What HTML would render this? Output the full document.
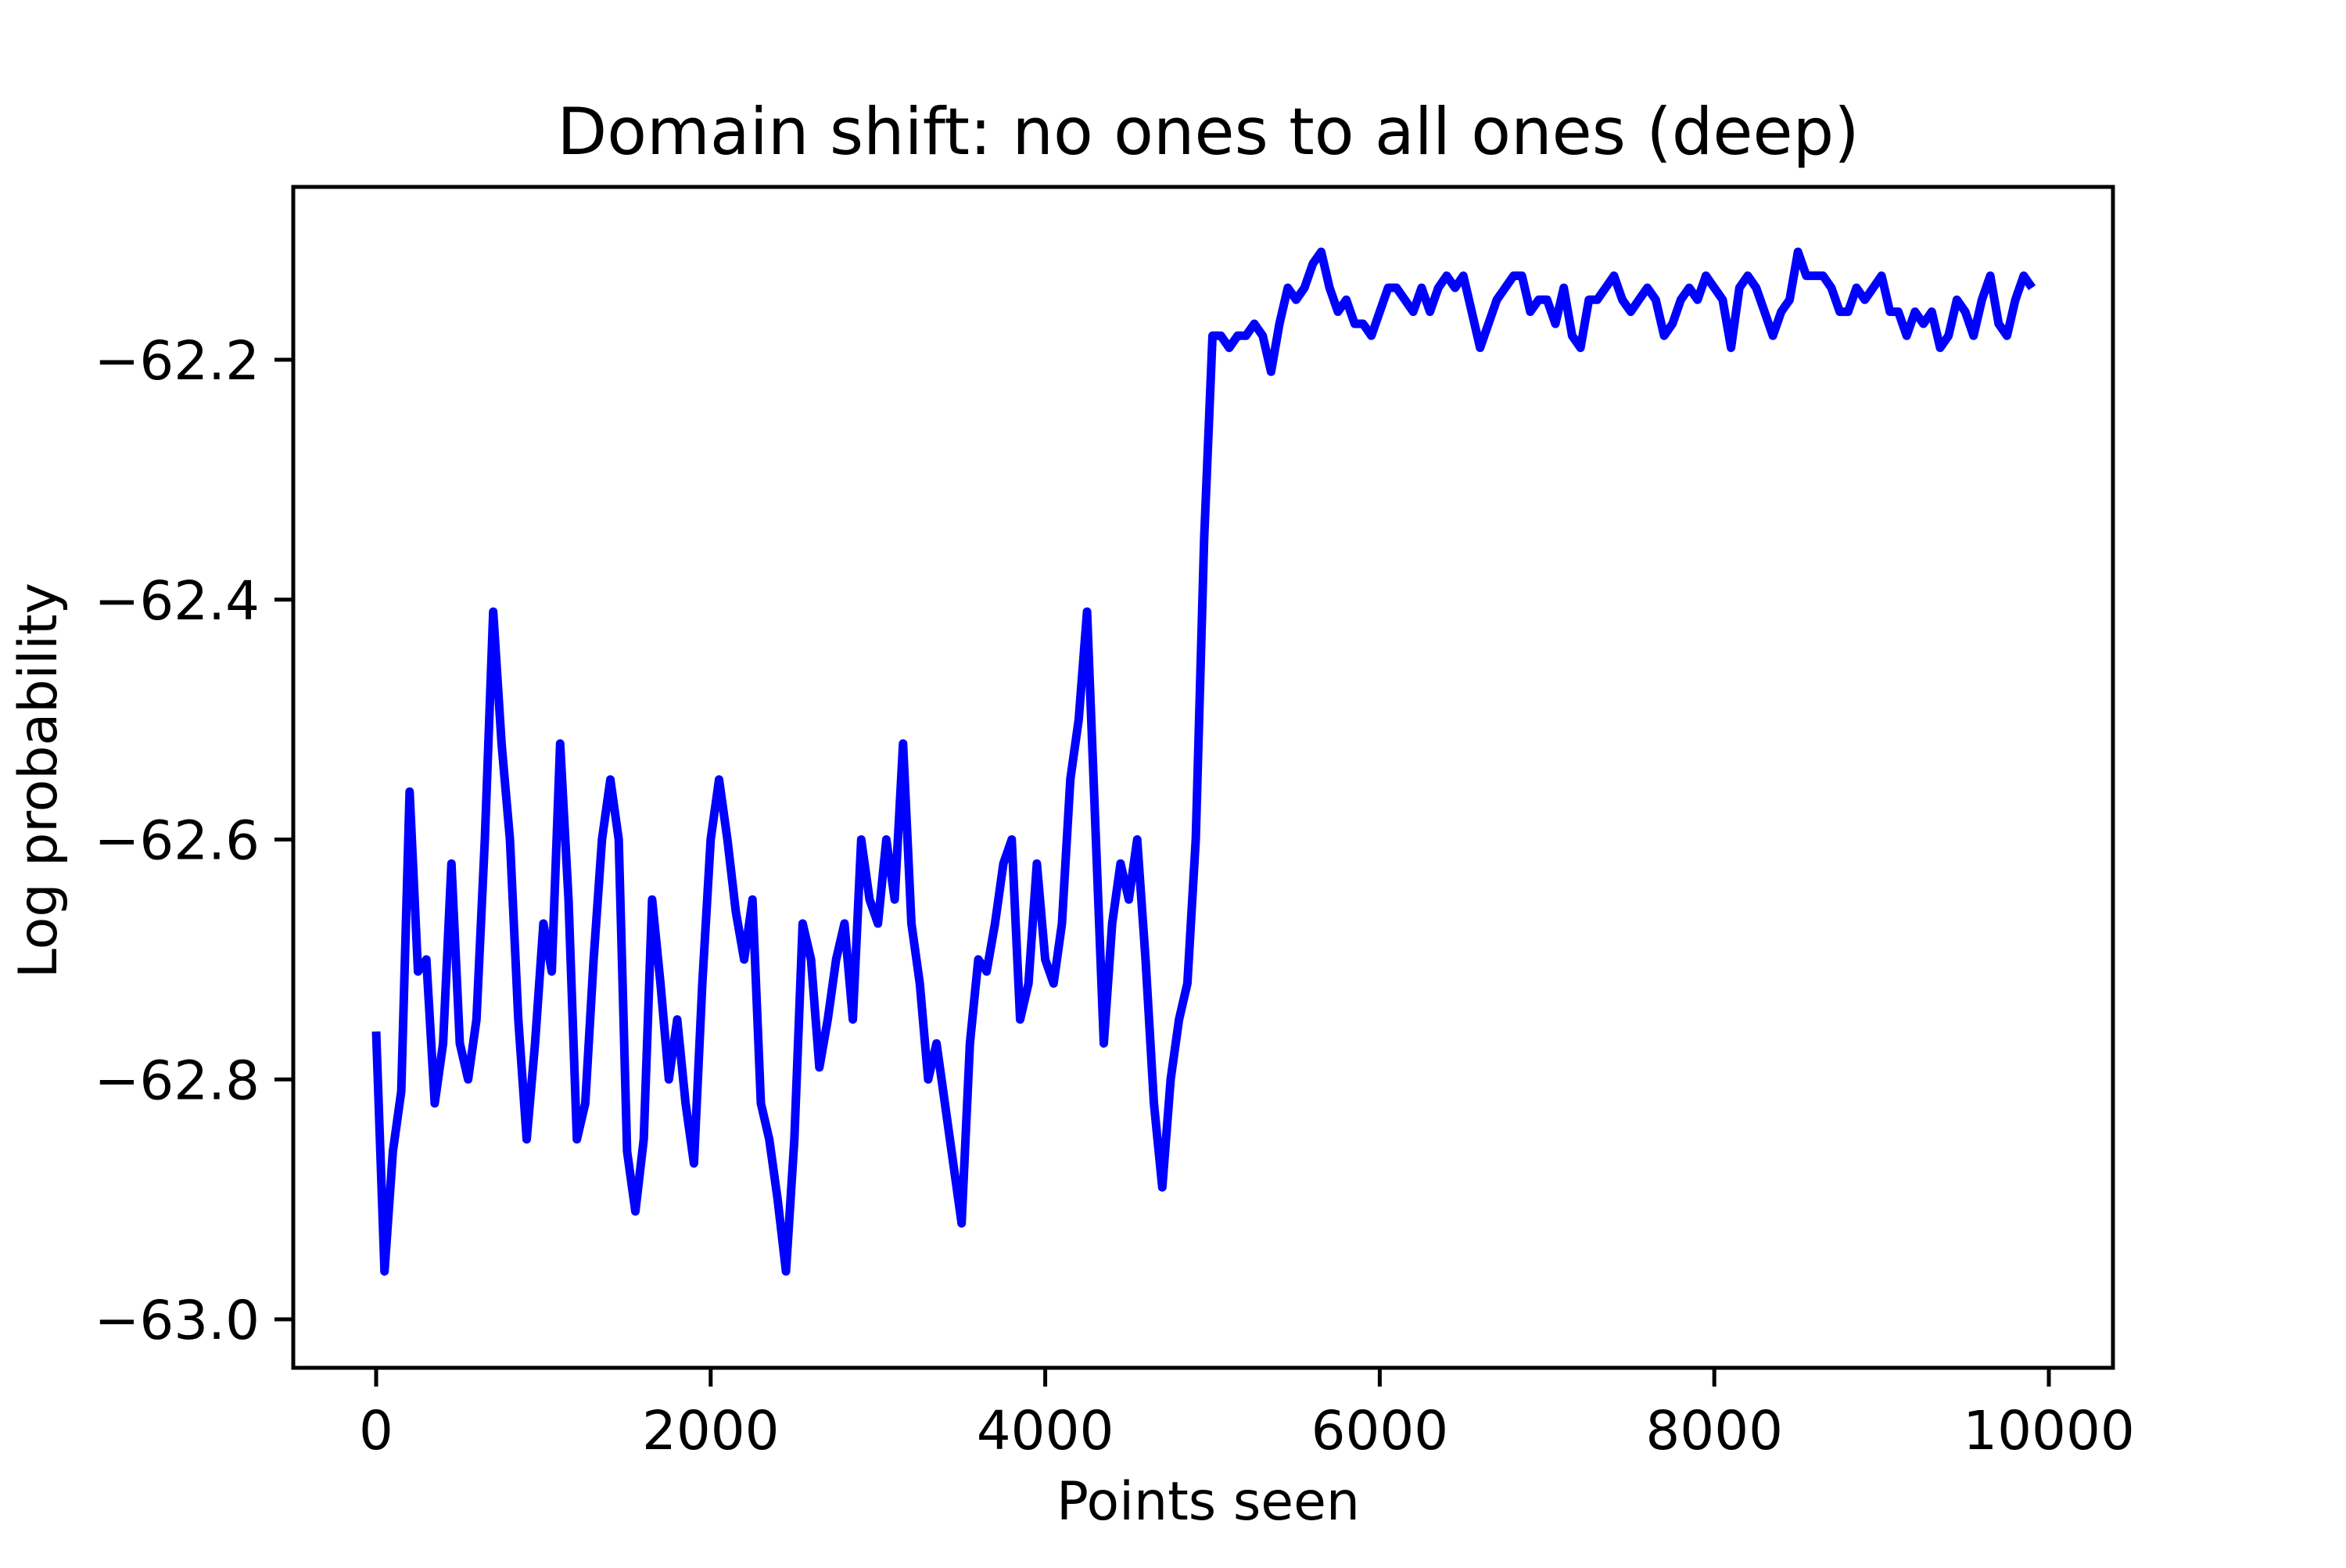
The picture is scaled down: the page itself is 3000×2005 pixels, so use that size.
<!DOCTYPE html>
<html><head><meta charset="utf-8"><style>
html,body{margin:0;padding:0;background:#fff;}
svg text{font-family:"DejaVu Sans","Liberation Sans",sans-serif;fill:#000;}
</style></head><body>
<svg id="chart" width="3000" height="2000" viewBox="0 0 3000 2000" xmlns="http://www.w3.org/2000/svg">
<rect width="3000" height="2000" fill="#fff"/>
<text x="1545" y="197" font-size="83" text-anchor="middle">Domain shift: no ones to all ones (deep)</text>
<g id="plot"></g>
<rect x="375" y="239" width="2327" height="1510" fill="none" stroke="#000" stroke-width="5"/>
<g id="xticks"></g><g id="yticks"></g>
<text x="1545" y="1943" font-size="68" text-anchor="middle">Points seen</text>
<text transform="translate(72,998) rotate(-90)" font-size="68" text-anchor="middle">Log probability</text>
</svg>
<script>
const xStep = 50;
const values = [-62.76,-62.96,-62.86,-62.81,-62.56,-62.71,-62.70,-62.82,-62.77,-62.62,-62.77,-62.80,-62.75,-62.60,-62.41,-62.52,-62.60,-62.75,-62.85,-62.77,
-62.67,-62.71,-62.52,-62.65,-62.85,-62.82,-62.70,-62.60,-62.55,-62.60,-62.86,-62.91,-62.85,-62.65,-62.72,-62.80,-62.75,-62.82,-62.87,-62.72,
-62.60,-62.55,-62.60,-62.66,-62.70,-62.65,-62.82,-62.85,-62.90,-62.96,-62.85,-62.67,-62.70,-62.79,-62.75,-62.70,-62.67,-62.75,-62.60,-62.65,
-62.67,-62.60,-62.65,-62.52,-62.67,-62.72,-62.80,-62.77,-62.82,-62.87,-62.92,-62.77,-62.70,-62.71,-62.67,-62.62,-62.60,-62.75,-62.72,-62.62,
-62.70,-62.72,-62.67,-62.55,-62.50,-62.41,-62.59,-62.77,-62.67,-62.62,-62.65,-62.60,-62.70,-62.82,-62.89,-62.80,-62.75,-62.72,-62.60,-62.35,
-62.18,-62.18,-62.19,-62.18,-62.18,-62.17,-62.18,-62.21,-62.17,-62.14,-62.15,-62.14,-62.12,-62.11,-62.14,-62.16,-62.15,-62.17,-62.17,-62.18,
-62.16,-62.14,-62.14,-62.15,-62.16,-62.14,-62.16,-62.14,-62.13,-62.14,-62.13,-62.16,-62.19,-62.17,-62.15,-62.14,-62.13,-62.13,-62.16,-62.15,
-62.15,-62.17,-62.14,-62.18,-62.19,-62.15,-62.15,-62.14,-62.13,-62.15,-62.16,-62.15,-62.14,-62.15,-62.18,-62.17,-62.15,-62.14,-62.15,-62.13,
-62.14,-62.15,-62.19,-62.14,-62.13,-62.14,-62.16,-62.18,-62.16,-62.15,-62.11,-62.13,-62.13,-62.13,-62.14,-62.16,-62.16,-62.14,-62.15,-62.14,
-62.13,-62.16,-62.16,-62.18,-62.16,-62.17,-62.16,-62.19,-62.18,-62.15,-62.16,-62.18,-62.15,-62.13,-62.17,-62.18,-62.15,-62.13,-62.14];
const xTicks = [0,2000,4000,6000,8000,10000];
const yTicks = [-62.2,-62.4,-62.6,-62.8,-63.0];
const yTickLabels = ["\u221262.2","\u221262.4","\u221262.6","\u221262.8","\u221263.0"];

const NS="http://www.w3.org/2000/svg";
function sx(v){return 481+(v-0)*(2620-481)/10000;}
function sy(v){return 460+(v-(-62.2))*(1687-460)/(-63.0-(-62.2));}
let d="";
values.forEach((v,i)=>{d+=(i?"L":"M")+sx(i*xStep).toFixed(1)+" "+sy(v).toFixed(1);});
const path=document.createElementNS(NS,"path");


path.setAttribute("d",d);path.setAttribute("fill","none");path.setAttribute("stroke","#0000ff");
path.setAttribute("stroke-width","11");path.setAttribute("stroke-linejoin","round");
document.getElementById("plot").appendChild(path);
const xg=document.getElementById("xticks");
xTicks.forEach(t=>{
  const l=document.createElementNS(NS,"line");
  
  
  l.setAttribute("x1",sx(t));l.setAttribute("x2",sx(t));l.setAttribute("y1",1749);l.setAttribute("y2",1773);
  l.setAttribute("stroke","#000");l.setAttribute("stroke-width","5");xg.appendChild(l);
  const tx=document.createElementNS(NS,"text");
  
  
  tx.setAttribute("x",sx(t));tx.setAttribute("y",1853);tx.setAttribute("font-size","69");tx.setAttribute("text-anchor","middle");
  tx.textContent=String(t);xg.appendChild(tx);
});
const yg=document.getElementById("yticks");
yTicks.forEach((t,i)=>{
  const l=document.createElementNS(NS,"line");
  
  
  l.setAttribute("x1",351);l.setAttribute("x2",375);l.setAttribute("y1",sy(t));l.setAttribute("y2",sy(t));
  l.setAttribute("stroke","#000");l.setAttribute("stroke-width","5");yg.appendChild(l);
  const tx=document.createElementNS(NS,"text");
  
  
  tx.setAttribute("x",332);tx.setAttribute("y",sy(t)+25);tx.setAttribute("font-size","69");tx.setAttribute("text-anchor","end");
  tx.textContent=yTickLabels[i];yg.appendChild(tx);
});
</script>
</body></html>
